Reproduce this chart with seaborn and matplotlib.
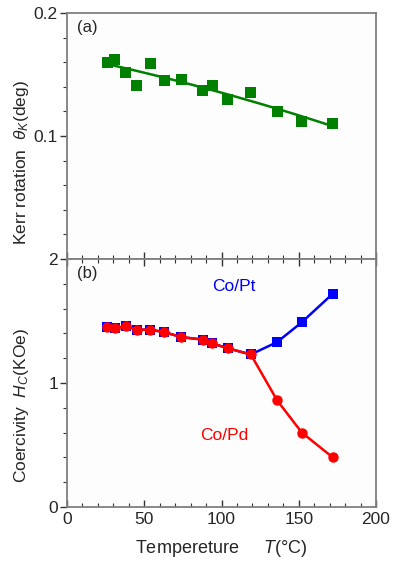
import matplotlib
matplotlib.use("Agg")
import matplotlib.pyplot as plt
from matplotlib.ticker import MultipleLocator, FixedLocator
import seaborn as sns
import pandas as pd

# ---- data ----
kerr_T = [26, 31, 38, 45, 54, 63, 74, 88, 94, 104, 119, 136, 152, 172]
kerr_theta = [0.160, 0.162, 0.152, 0.141, 0.159, 0.145, 0.146, 0.137, 0.141, 0.130, 0.135, 0.120, 0.112, 0.110]

hc_T = [26, 31, 38, 45, 54, 63, 74, 88, 94, 104, 119, 136, 152, 172]
hc_copt = [1.45, 1.44, 1.46, 1.43, 1.43, 1.41, 1.37, 1.35, 1.32, 1.28, 1.23, 1.33, 1.49, 1.72]
hc_copd = [1.45, 1.44, 1.46, 1.43, 1.43, 1.41, 1.37, 1.35, 1.32, 1.28, 1.23, 0.86, 0.60, 0.40]

x_ticks = [0, 50, 100, 150, 200]

sns.set_theme(style="ticks")
plt.rcParams['font.family'] = ['Liberation Sans', 'DejaVu Sans']
plt.rcParams['mathtext.fontset'] = 'custom'
plt.rcParams['mathtext.it'] = 'Liberation Sans:italic'
plt.rcParams['mathtext.rm'] = 'Liberation Sans'

fig = plt.figure(figsize=(3.96, 5.65), dpi=100)
L, R = 67 / 396, 376 / 396
y_top, y_mid, y_bot = 1 - 13 / 565, 1 - 259 / 565, 1 - 507 / 565
ax1 = fig.add_axes([L, y_mid, R - L, y_top - y_mid])
ax2 = fig.add_axes([L, y_bot, R - L, y_mid - y_bot])

green = "#008000"
blue = "#0000ff"
red = "#ff0000"

df_k = pd.DataFrame({"T": kerr_T, "theta": kerr_theta})
sns.regplot(data=df_k, x="T", y="theta", order=2, ci=None, scatter=False,
            truncate=True, color=green, line_kws=dict(lw=1.8), ax=ax1)
sns.scatterplot(data=df_k, x="T", y="theta", marker="s", s=62, color=green,
                edgecolor="none", ax=ax1, zorder=3)

df_h = pd.DataFrame({"T": hc_T, "pt": hc_copt, "pd": hc_copd})
sns.lineplot(data=df_h, x="T", y="pt", color=blue, lw=1.8, marker="s",
             markersize=7.5, markeredgewidth=0, ax=ax2, zorder=2)
sns.lineplot(data=df_h, x="T", y="pd", color=red, lw=1.8, marker="o",
             markersize=7.5, markeredgewidth=0, ax=ax2, zorder=3)

spine_c = "#7f7f7f"
for ax in (ax1, ax2):
    ax.set_facecolor("#fdfdfd")
    for s in ax.spines.values():
        s.set_visible(True)
        s.set_color(spine_c)
        s.set_linewidth(1.3)
    ax.set_xlim(0, 200)
    ax.xaxis.set_major_locator(FixedLocator(x_ticks))
    ax.xaxis.set_minor_locator(MultipleLocator(10))
    ax.tick_params(axis="x", which="both", direction="in", color="#333333")
    ax.tick_params(axis="x", which="major", length=5, width=1)
    ax.tick_params(axis="x", which="minor", length=3, width=0.8)
    ax.tick_params(axis="y", which="both", direction="out", color="#333333", labelsize=12.5, pad=1.5)
    ax.tick_params(axis="y", which="major", length=5, width=1)
    ax.tick_params(axis="y", which="minor", length=3, width=0.8)
    ax.set_xlabel("")
    ax.set_ylabel("")

ax1.set_ylim(0, 0.2)
ax1.yaxis.set_major_locator(FixedLocator([0.1, 0.2]))
ax1.set_yticklabels(["0.1", "0.2"])
ax1.yaxis.set_minor_locator(MultipleLocator(0.02))
ax1.tick_params(axis="x", labelbottom=False)

ax2.set_ylim(0, 2)
ax2.yaxis.set_major_locator(FixedLocator([0, 1, 2]))
ax2.set_yticklabels(["0", "1", "2"])
ax2.yaxis.set_minor_locator(MultipleLocator(0.2))
ax2.tick_params(axis="x", top=True, which="both", labelsize=12.5)

ax1.text(0.033, 0.972, "(a)", transform=ax1.transAxes, fontsize=12, va="top", ha="left")
ax2.text(0.033, 0.972, "(b)", transform=ax2.transAxes, fontsize=12, va="top", ha="left")
ax2.text(108, 1.78, "Co/Pt", color=blue, fontsize=12.5, ha="center", va="center")
ax2.text(102, 0.58, "Co/Pd", color=red, fontsize=12.5, ha="center", va="center")

ax1.set_ylabel(r"Kerr rotation  $\theta_K$(deg)", fontsize=12.5)
ax2.set_ylabel(r"Coercivity  $H_C$(KOe)", fontsize=12.5)
for ax, yc in ((ax1, (259 - 163) / 246), (ax2, (507 - 406) / 248)):
    ax.yaxis.label.set_va("center")
    ax.yaxis.set_label_coords((22 - 67) / 309, yc)
ax2.set_xlabel(r"Tempereture     $T$(°C)", fontsize=13, labelpad=8)

fig.savefig("out.png", dpi=100)
